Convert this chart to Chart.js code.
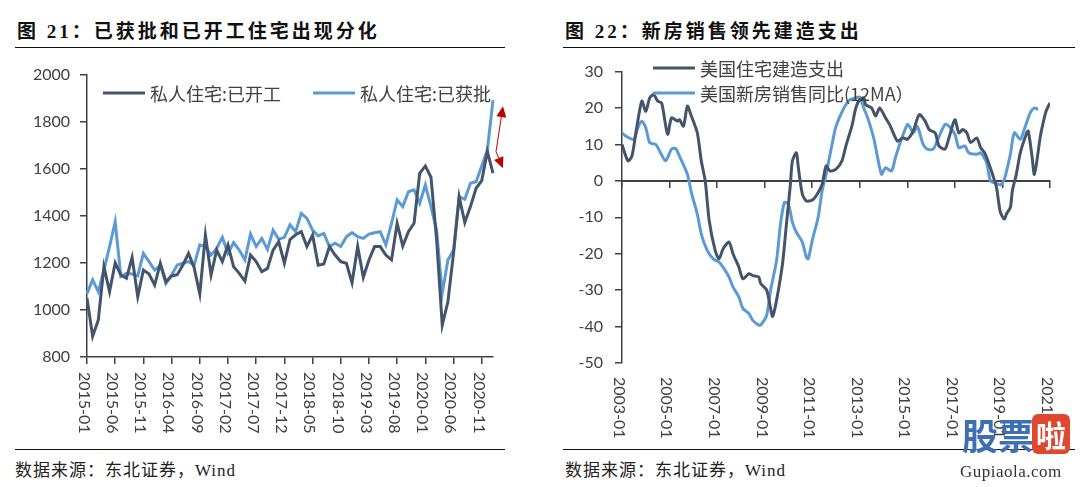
<!DOCTYPE html>
<html>
<head>
<meta charset="utf-8">
<script src="https://cdn.jsdelivr.net/npm/chart.js@4.4.0/dist/chart.umd.min.js"></script>
<style>
  body { margin: 0; width: 1080px; height: 487px; background: #fff; position: relative; overflow: hidden;
         font-family: "Liberation Serif", "Noto Sans CJK SC", serif; }
  .title { position: absolute; top: 16px; font-weight: bold; font-size: 19px; letter-spacing: 3px; color: #111; white-space: nowrap; }
  .rule { position: absolute; height: 0; border-top: 1.5px solid #111; }
  .source { position: absolute; top: 456px; font-size: 17px; color: #222; letter-spacing: 1px; white-space: nowrap; }
  canvas.chart { position: absolute; top: 50px; }
  .mark { position: absolute; left: 958px; top: 412px; width: 122px; height: 75px; }
  .mark .cn { position: absolute; top: 0; left: 4px; font: bold 36px "Noto Sans CJK SC"; color: #3d6fb5; line-height: 44px; }
  .mark .la { position: absolute; top: 2px; left: 74px; width: 38px; height: 40px; border-radius: 6px; background: #e0472f;
              color: #fff; font: bold 30px "Noto Sans CJK SC"; line-height: 40px; text-align: center; }
  .mark .en { position: absolute; top: 50px; left: 2px; font: 17px "Liberation Serif"; color: #333; letter-spacing: 0.5px; }
</style>
</head>
<body>
<div class="title" style="left:17px">图 21：已获批和已开工住宅出现分化</div>
<div class="rule" style="left:15px; top:47px; width:490px"></div>
<div class="title" style="left:565px">图 22：新房销售领先建造支出</div>
<div class="rule" style="left:563px; top:47px; width:512px"></div>

<canvas id="left" class="chart" style="left:0" width="540" height="400"></canvas>
<canvas id="right" class="chart" style="left:540px" width="540" height="400"></canvas>

<div class="rule" style="left:15px; top:449px; width:490px"></div>
<div class="rule" style="left:563px; top:449px; width:512px"></div>
<div class="source" style="left:15px">数据来源：东北证券，Wind</div>
<div class="source" style="left:565px">数据来源：东北证券，Wind</div>

<div class="mark"><span class="cn">股票</span><span class="la">啦</span><span class="en">Gupiaola.com</span></div>

<script>
// ---- left chart: private housing starts vs permits (thousand units, SAAR)
function monthLabels(startYear, count) {
  const out = [];
  for (let i = 0; i < count; i++) {
    const y = startYear + Math.floor(i / 12);
    const m = (i % 12) + 1;
    out.push(y + "-" + (m < 10 ? "0" + m : m));
  }
  return out;
}
const leftMonths = monthLabels(2015, 73); // 2015-01 .. 2021-01

const startsValues = [
  1050, 888, 957, 1184, 1078, 1201, 1149, 1135, 1224, 1057, 1170, 1153,
  1106, 1199, 1120, 1145, 1150, 1191, 1241, 1180, 1068, 1319, 1149, 1255,
  1206, 1277, 1184, 1156, 1123, 1234, 1206, 1163, 1177, 1255, 1291, 1199,
  1300, 1320, 1333, 1270, 1319, 1191, 1196, 1270, 1234, 1206, 1199, 1116,
  1270, 1139, 1213, 1270, 1270, 1234, 1213, 1369, 1272, 1333, 1369, 1582,
  1613, 1565, 1300, 936, 1035, 1241, 1482, 1372, 1440, 1518, 1551, 1674,
  1582,
];
const permitsValues = [
  1071, 1128, 1078, 1170, 1270, 1376, 1142, 1156, 1153, 1145, 1241, 1206,
  1170, 1191, 1113, 1149, 1191, 1199, 1206, 1191, 1277, 1270, 1234, 1262,
  1309, 1241, 1287, 1255, 1213, 1323, 1270, 1305, 1258, 1340, 1301, 1309,
  1362, 1333, 1411, 1390, 1340, 1315, 1326, 1270, 1284, 1270, 1312, 1329,
  1312, 1305, 1323, 1329, 1333, 1277, 1369, 1468, 1440, 1503, 1511, 1454,
  1532, 1440, 1340, 1071, 1213, 1255, 1482, 1471, 1539, 1546, 1613, 1681,
  1893,
];
const leftNames = ["私人住宅:已开工", "私人住宅:已获批"];

// ---- right chart: construction spending vs new home sales yoy (12MA), %
const spendDates = [
  "2003-01", "2003-04", "2003-06", "2003-08", "2003-11", "2004-01", "2004-03", "2004-05", "2004-07", "2004-09",
  "2004-12", "2005-02", "2005-05", "2005-06", "2005-08", "2005-10", "2005-12", "2006-03", "2006-05", "2006-07",
  "2006-09", "2006-12", "2007-02", "2007-04", "2007-07", "2007-09", "2007-12", "2008-02", "2008-05", "2008-07",
  "2008-10", "2008-11", "2009-02", "2009-04", "2009-05", "2009-07", "2009-10", "2009-12", "2010-02", "2010-03",
  "2010-05", "2010-06", "2010-08", "2010-10", "2011-01", "2011-03", "2011-06", "2011-08", "2011-10", "2012-01",
  "2012-04", "2012-06", "2012-09", "2012-11", "2013-01", "2013-03", "2013-04", "2013-07", "2013-09", "2013-11",
  "2014-02", "2014-04", "2014-07", "2014-08", "2014-11", "2015-01", "2015-04", "2015-07", "2015-10", "2015-12",
  "2016-03", "2016-05", "2016-08", "2016-10", "2017-01", "2017-03", "2017-05", "2017-07", "2017-09", "2017-12",
  "2018-02", "2018-04", "2018-06", "2018-08", "2018-10", "2018-11", "2018-12", "2019-02", "2019-03", "2019-05",
  "2019-06", "2019-08", "2019-10", "2020-01", "2020-02", "2020-04", "2020-05", "2020-06", "2020-08", "2020-09",
  "2020-11", "2021-01",
];
const spendValues = [
  10.0, 5.5, 6.8, 13.2, 21.9, 19.1, 22.8, 23.7, 21.9, 21.4,
  12.8, 17.3, 16.4, 16.8, 15.0, 20.5, 17.8, 13.2, 5.5, 0.0,
  -10.9, -19.1, -21.4, -18.7, -16.8, -20.0, -23.7, -26.9, -25.5, -26.0,
  -26.4, -28.2, -30.0, -35.0, -37.2, -32.8, -22.8, -11.8, -0.9, 5.5,
  7.7, 3.6, -3.6, -5.5, -5.3, -4.1, -0.9, 4.1, 2.7, 3.2,
  5.5, 9.6, 15.0, 20.0, 22.3, 22.8, 20.9, 20.0, 17.8, 20.0,
  17.3, 15.5, 11.8, 10.9, 11.8, 11.4, 13.7, 18.2, 16.4, 14.1,
  13.2, 9.6, 8.7, 11.8, 16.8, 13.2, 14.1, 13.2, 10.5, 11.8,
  9.1, 7.7, 5.0, 1.8, -1.8, -5.5, -8.7, -10.5, -9.1, -7.3,
  -2.7, 1.8, 7.7, 12.8, 13.7, 6.4, 1.8, 4.1, 11.8, 14.6,
  19.1, 21.4,
];
const salesDates = [
  "2003-01", "2003-03", "2003-07", "2003-09", "2003-11", "2004-01", "2004-03", "2004-06", "2004-08", "2004-11",
  "2005-02", "2005-04", "2005-06", "2005-10", "2005-12", "2006-03", "2006-05", "2006-08", "2006-11", "2007-02",
  "2007-04", "2007-07", "2007-09", "2007-12", "2008-02", "2008-05", "2008-07", "2008-10", "2008-11", "2009-02",
  "2009-04", "2009-07", "2009-09", "2009-11", "2010-01", "2010-03", "2010-05", "2010-08", "2010-10", "2010-11",
  "2011-01", "2011-04", "2011-06", "2011-08", "2011-11", "2012-01", "2012-05", "2012-08", "2012-11", "2013-01",
  "2013-03", "2013-05", "2013-08", "2013-10", "2013-12", "2014-02", "2014-05", "2014-07", "2014-10", "2015-01",
  "2015-02", "2015-04", "2015-06", "2015-09", "2015-11", "2016-02", "2016-04", "2016-08", "2016-10", "2017-01",
  "2017-03", "2017-06", "2017-08", "2017-12", "2018-02", "2018-05", "2018-07", "2018-10", "2018-12", "2019-02",
  "2019-05", "2019-07", "2019-10", "2019-12", "2020-03", "2020-05", "2020-07",
];
const salesValues = [
  13.2, 12.3, 11.4, 14.6, 16.4, 14.6, 10.5, 10.0, 8.2, 5.5,
  8.7, 8.9, 6.8, 1.8, -3.2, -9.1, -14.6, -19.1, -21.4, -22.3,
  -23.7, -26.4, -29.1, -31.9, -35.0, -36.4, -38.3, -39.6, -39.6, -36.9,
  -30.0, -21.9, -11.8, -5.9, -6.4, -11.4, -14.1, -16.8, -20.9, -21.4,
  -16.4, -10.0, -2.7, 1.8, 10.0, 15.0, 20.0, 22.3, 22.8, 23.0,
  20.0, 17.3, 11.8, 6.4, 1.8, 3.6, 2.7, 6.4, 11.4, 15.5,
  15.0, 13.2, 15.0, 10.0, 8.7, 8.7, 10.9, 15.5, 15.0, 12.8,
  9.1, 9.6, 7.7, 7.3, 7.7, 5.0, 0.0, -0.7, -1.1, 0.5,
  7.3, 13.2, 11.4, 14.1, 18.7, 20.0, 19.6,
];
const rightTicks = ["2003-01", "2005-01", "2007-01", "2009-01", "2011-01", "2013-01", "2015-01", "2017-01", "2019-01", "2021-01"];
const rightNames = ["美国住宅建造支出", "美国新房销售同比(12MA）"];

const DARK = "#44546A";
const BLUE = "#5B9BD5";
const AXIS = "#404040";
const TEXT = "#404040";

function monthIndex(s) {
  const p = s.split("-");
  return (parseInt(p[0], 10) - 2003) * 12 + parseInt(p[1], 10) - 1;
}

function drawLegendItem(ctx, x, y, color, text) {
  ctx.strokeStyle = color;
  ctx.lineWidth = 3;
  ctx.beginPath();
  ctx.moveTo(x, y);
  ctx.lineTo(x + 42, y);
  ctx.stroke();
  ctx.fillStyle = TEXT;
  ctx.font = '18px "Noto Sans CJK SC"';
  ctx.textAlign = "left";
  ctx.textBaseline = "middle";
  ctx.fillText(text, x + 47, y + 1);
}

function drawArrow(ctx, x0, y0, x1, y1) {
  const ang = Math.atan2(y1 - y0, x1 - x0);
  const len = 11, half = 5;
  ctx.strokeStyle = "#c00000";
  ctx.fillStyle = "#c00000";
  ctx.lineWidth = 1;
  ctx.beginPath();
  ctx.moveTo(x0, y0);
  ctx.lineTo(x1 - Math.cos(ang) * len, y1 - Math.sin(ang) * len);
  ctx.stroke();
  ctx.beginPath();
  ctx.moveTo(x1, y1);
  ctx.lineTo(x1 - Math.cos(ang) * len - Math.sin(ang) * half, y1 - Math.sin(ang) * len + Math.cos(ang) * half);
  ctx.lineTo(x1 - Math.cos(ang) * len + Math.sin(ang) * half, y1 - Math.sin(ang) * len - Math.cos(ang) * half);
  ctx.closePath();
  ctx.fill();
}

function drawDownLabels(ctx, items, top) {
  ctx.font = "16px Lato";
  ctx.fillStyle = TEXT;
  ctx.textAlign = "left";
  ctx.textBaseline = "middle";
  items.forEach(function (it) {
    ctx.save();
    ctx.translate(it.x - 3, top);
    ctx.rotate(Math.PI / 2);
    ctx.fillText(it.text, 0, 0);
    ctx.restore();
  });
}

const leftDecor = {
  id: "leftDecor",
  afterDraw(chart) {
    const ctx = chart.ctx;
    const xs = chart.scales.x, ys = chart.scales.y;
    ctx.save();
    const items = [];
    leftMonths.forEach(function (m, i) {
      if (i % 5 === 0) items.push({ x: xs.getPixelForValue(i), text: m });
    });
    drawDownLabels(ctx, items, 322);
    drawLegendItem(ctx, 103, 43, DARK, leftNames[0]);
    drawLegendItem(ctx, 313, 43, BLUE, leftNames[1]);
    // red arrows: divergence between last permits and starts
    const last = leftMonths.length - 1;
    const xl = xs.getPixelForValue(last);
    const ox = xl + 3, oy = ys.getPixelForValue(startsValues[last - 1]);
    drawArrow(ctx, ox, oy, xl + 10, ys.getPixelForValue(permitsValues[last]) + 6);
    drawArrow(ctx, ox, oy, xl + 10, ys.getPixelForValue(startsValues[last]) - 5);
    ctx.restore();
  },
};

const rightDecor = {
  id: "rightDecor",
  afterDraw(chart) {
    const ctx = chart.ctx;
    const xs = chart.scales.x;
    ctx.save();
    drawDownLabels(ctx, rightTicks.map(function (t) {
      return { x: xs.getPixelForValue(monthIndex(t)), text: t };
    }), 327);
    drawLegendItem(ctx, 113, 18, DARK, rightNames[0]);
    drawLegendItem(ctx, 113, 43, BLUE, rightNames[1]);
    ctx.restore();
  },
};

const tickFont = { family: "Lato", size: 16 };
const plainTick = function (v) { return String(v); };

new Chart(document.getElementById("left"), {
  type: "line",
  data: {
    labels: leftMonths,
    datasets: [
      { label: leftNames[0], data: startsValues, borderColor: DARK, borderWidth: 3, pointRadius: 0, tension: 0 },
      { label: leftNames[1], data: permitsValues, borderColor: BLUE, borderWidth: 3, pointRadius: 0, tension: 0 },
    ],
  },
  options: {
    responsive: false,
    animation: false,
    layout: { padding: { top: 25, right: 47, bottom: 0, left: 0 } },
    plugins: { legend: { display: false } },
    scales: {
      x: {
        type: "category",
        ticks: { display: false },
        grid: {
          drawOnChartArea: false,
          tickLength: 7,
          lineWidth: 1.5,
          color: function (c) { return c.index % 5 === 0 ? AXIS : "rgba(0,0,0,0)"; },
        },
        border: { color: AXIS, width: 1.5 },
        afterFit: function (s) { s.height = 93; },
      },
      y: {
        min: 800,
        max: 2000,
        ticks: { stepSize: 200, font: tickFont, color: TEXT, padding: 10, callback: plainTick },
        grid: { drawOnChartArea: false, tickLength: 7, color: AXIS, lineWidth: 1.5 },
        border: { color: AXIS, width: 1.5 },
        afterFit: function (s) { s.width = 87; },
      },
    },
  },
  plugins: [leftDecor],
});

function toPoints(dates, values) {
  return dates.map(function (d, i) { return { x: monthIndex(d), y: values[i] }; });
}

new Chart(document.getElementById("right"), {
  type: "line",
  data: {
    datasets: [
      { label: rightNames[0], data: toPoints(spendDates, spendValues), borderColor: DARK, borderWidth: 3, pointRadius: 0, tension: 0.25 },
      { label: rightNames[1], data: toPoints(salesDates, salesValues), borderColor: BLUE, borderWidth: 3, pointRadius: 0, tension: 0.25 },
    ],
  },
  options: {
    responsive: false,
    animation: false,
    layout: { padding: { top: 20, right: 30, bottom: 87, left: 0 } },
    plugins: { legend: { display: false } },
    scales: {
      x: {
        type: "linear",
        position: { y: 0 },
        min: 0,
        max: monthIndex(rightTicks[rightTicks.length - 1]),
        ticks: { display: false, stepSize: 24 },
        grid: { drawOnChartArea: false, tickLength: 6, color: AXIS, lineWidth: 1.5 },
        border: { color: AXIS, width: 2 },
      },
      y: {
        min: -50,
        max: 30,
        ticks: { stepSize: 10, font: tickFont, color: TEXT, padding: 12, callback: plainTick },
        grid: { drawOnChartArea: false, tickLength: 7, color: AXIS, lineWidth: 1.5 },
        border: { color: AXIS, width: 1.5 },
        afterFit: function (s) { s.width = 82; },
      },
    },
  },
  plugins: [rightDecor],
});
</script>
</body>
</html>
